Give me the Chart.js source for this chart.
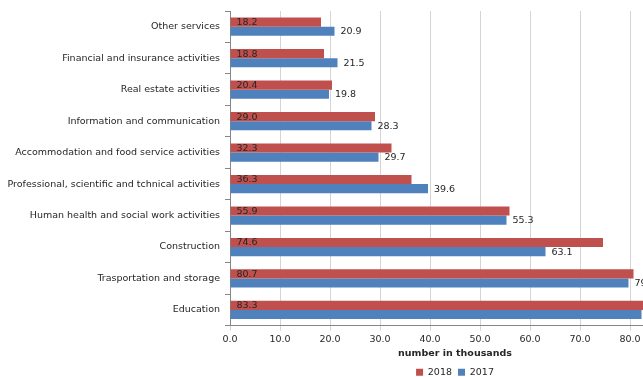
<!DOCTYPE html>
<html>
<head>
<meta charset="utf-8">
<script src="https://cdn.jsdelivr.net/npm/chart.js@4.4.1/dist/chart.umd.min.js"></script>
<style>
  html, body { margin: 0; padding: 0; background: #fff; overflow: hidden; }
  #wrap { position: relative; width: 700px; height: 387px; }
</style>
</head>
<body>
<div id="wrap"><canvas id="jobs-chart"></canvas></div>
<script>
const categories = [
    'Other services',
    'Financial and insurance activities',
    'Real estate activities',
    'Information and communication',
    'Accommodation and food service activities',
    'Professional, scientific and tchnical activities',
    'Human health and social work activities',
    'Construction',
    'Trasportation and storage',
    'Education'
]
const values2018 = [18.2, 18.8, 20.4, 29.0, 32.3, 36.3, 55.9, 74.6, 80.7, 83.3]
const values2017 = [20.9, 21.5, 19.8, 28.3, 29.7, 39.6, 55.3, 63.1, 79.7, 82.3]
const xTicks = [0, 10, 20, 30, 40, 50, 60, 70, 80, 90]

const FONT = 'DejaVu Sans, Verdana, sans-serif'
const TEXT = '#262626'

// value labels: 2018 sits inside the bar at its base, 2017 just past the bar end
const barLabels = {
    id: 'barLabels',
    afterDatasetsDraw(chart) {
        const ctx = chart.ctx
        ctx.save()
        ctx.font = '9.5px ' + FONT
        ctx.fillStyle = TEXT
        ctx.textBaseline = 'middle'
        ctx.textAlign = 'left'
        chart.data.datasets.forEach((ds, i) => {
            chart.getDatasetMeta(i).data.forEach((bar, j) => {
                const text = ds.data[j].toFixed(1)
                const x = i === 0 ? bar.base + 6 : bar.x + 6
                ctx.fillText(text, x, bar.y + 0.5)
            })
        })
        ctx.restore()
    }
}

window.onload = () => {
    const chart = document.querySelector('#jobs-chart')

    new Chart(chart, {
        type: 'bar',
        data: {
            labels: categories,
            datasets: [{
                label: '2018',
                data: values2018,
                backgroundColor: '#C0504D',
                barPercentage: 1,
                categoryPercentage: 0.58
            }, {
                label: '2017',
                data: values2017,
                backgroundColor: '#4F81BD',
                barPercentage: 1,
                categoryPercentage: 0.58
            }]
        },
        plugins: [barLabels],
        options: {
            indexAxis: 'y',
            responsive: true,
            maintainAspectRatio: false,
            animation: false,
            layout: { padding: { top: 11, right: 20, bottom: 0, left: 0 } },
            plugins: {
                tooltip: { enabled: false },
                legend: {
                    position: 'bottom',
                    fullSize: false,
                    labels: {
                        boxWidth: 7,
                        boxHeight: 7,
                        padding: 6,
                        color: TEXT,
                        font: { family: FONT, size: 9.5 }
                    }
                }
            },
            scales: {
                x: {
                    min: 0,
                    max: 90,
                    afterBuildTicks: axis => { axis.ticks = xTicks.map(v => ({ value: v })) },
                    grid: { color: '#d4d4d4', lineWidth: 1, tickLength: 5 },
                    border: { color: '#868686' },
                    ticks: {
                        padding: 3,
                        color: TEXT,
                        font: { family: FONT, size: 9.5 },
                        callback: v => v.toFixed(1)
                    },
                    title: {
                        display: true,
                        text: 'number in thousands',
                        color: TEXT,
                        padding: { top: 0, bottom: 2 },
                        font: { family: FONT, size: 9.5, weight: 'bold' }
                    }
                },
                y: {
                    afterFit: axis => { axis.width = 230 },
                    grid: { offset: true, drawOnChartArea: false, color: '#868686', tickLength: 5 },
                    border: { color: '#868686' },
                    ticks: {
                        padding: 5,
                        color: TEXT,
                        font: { family: FONT, size: 9.5 }
                    }
                }
            }
        }
    })
}
</script>
</body>
</html>
